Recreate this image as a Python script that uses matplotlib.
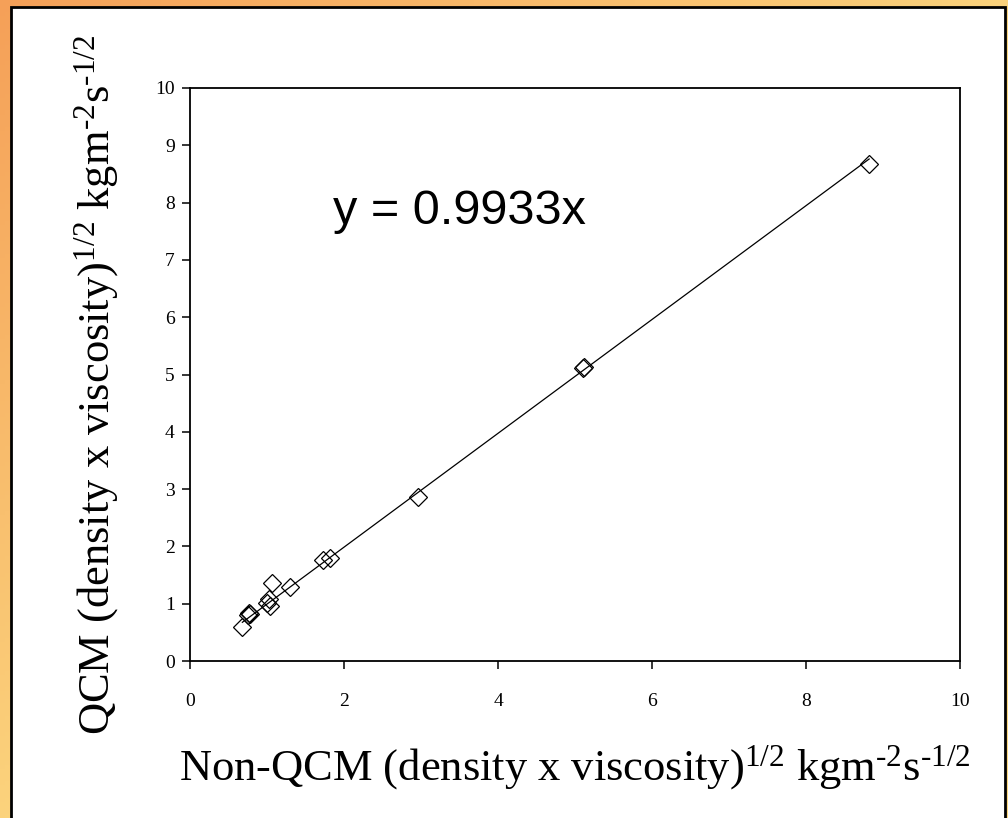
import numpy as np
import matplotlib.pyplot as plt
from matplotlib.patches import Rectangle

# data
non_qcm = [0.68, 0.75, 0.77, 0.78, 1.00, 1.02, 1.04, 1.06, 1.30, 1.73, 1.82, 2.96, 5.10, 5.12, 8.82]
qcm = [0.59, 0.80, 0.84, 0.82, 1.02, 1.08, 0.96, 1.36, 1.30, 1.76, 1.79, 2.86, 5.11, 5.13, 8.67]
slope = 0.9933

plt.rcParams['font.family'] = ['Liberation Serif', 'DejaVu Serif']
plt.rcParams['mathtext.fontset'] = 'custom'
plt.rcParams['mathtext.rm'] = 'Liberation Serif'
plt.rcParams['mathtext.it'] = 'Liberation Serif:italic'

fig = plt.figure(figsize=(10.08, 8.18), dpi=100)

# orange gradient background + white panel
bg = fig.add_axes([0, 0, 1, 1])
gx, gy = np.meshgrid(np.linspace(0, 1, 200), np.linspace(0, 1, 200))
t = np.clip((gx + gy) / 1.1, 0, 1)
c0 = np.array([245, 160, 88]) / 255.
c1 = np.array([252, 216, 128]) / 255.
img = c0[None, None, :] * (1 - t[..., None]) + c1[None, None, :] * t[..., None]
bg.imshow(img, extent=[0, 1, 1, 0], aspect='auto')
bg.set_xlim(0, 1)
bg.set_ylim(1, 0)
bg.add_patch(Rectangle((11 / 1008, 7 / 818), 994 / 1008, 0.995, facecolor='white',
                       edgecolor='black', linewidth=2))
bg.axis('off')

ax = fig.add_axes([190 / 1008, 1 - 661 / 818, 770 / 1008, 573 / 818])
xs = np.array([min(non_qcm), max(non_qcm)])
ax.plot(xs, slope * xs, color='black', linewidth=0.9)
ax.plot(non_qcm, qcm, linestyle='none', marker='D', markersize=9.5,
        markerfacecolor='none', markeredgecolor='black', markeredgewidth=0.9)

ax.set_xlim(0, 10)
ax.set_ylim(0, 10)
ax.set_xticks([0, 2, 4, 6, 8, 10])
ax.set_yticks(range(0, 11))
ax.tick_params(direction='out', length=6, width=1.1, labelsize=14)
ax.tick_params(axis='x', pad=17)
ax.tick_params(axis='y', pad=5)
for s in ax.spines.values():
    s.set_linewidth(1.3)

ax.text(1.86, 7.62, 'y = 0.9933x', fontsize=35, family='Liberation Sans')

hy = '\u2010'
fig.text(575 / 1008, 1 - 768 / 818,
         r'Non-QCM (density x viscosity)$^{1/2}$ kgm$^{' + hy + r'2}$s$^{' + hy + r'1/2}$',
         fontsize=32, ha='center', va='center')
fig.text(97 / 1008, 1 - 385 / 818,
         r'QCM (density x viscosity)$^{1/2}$ kgm$^{' + hy + r'2}$s$^{' + hy + r'1/2}$',
         fontsize=32, ha='center', va='center', rotation=90)

fig.savefig('out.png', dpi=100)
